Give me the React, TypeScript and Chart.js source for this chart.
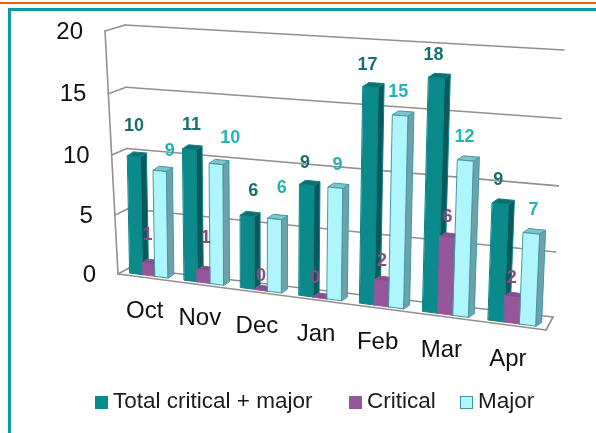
import React, { useEffect, useRef } from "react";
import { Chart, registerables } from "chart.js";

Chart.register(...registerables);

const months = ["Oct", "Nov", "Dec", "Jan", "Feb", "Mar", "Apr"];
const totalValues = [10, 11, 6, 9, 17, 18, 9];
const criticalValues = [1, 1, 0, 0, 2, 6, 2];
const majorValues = [9, 10, 6, 9, 15, 12, 7];

type P = [number, number];
const FONT = '"Liberation Sans", Arial, sans-serif';

function quad(bl: P, br: P, tr: P, tl: P) {
  const [x0, y0] = bl, [x1, y1] = br, [x2, y2] = tr, [x3, y3] = tl;
  const dx1 = x1 - x2, dx2 = x3 - x2, sx = x0 - x1 + x2 - x3;
  const dy1 = y1 - y2, dy2 = y3 - y2, sy = y0 - y1 + y2 - y3;
  const den = dx1 * dy2 - dx2 * dy1;
  const g = (sx * dy2 - dx2 * sy) / den;
  const h = (dx1 * sy - sx * dy1) / den;
  const a = x1 - x0 + g * x1, b = x3 - x0 + h * x3;
  const d = y1 - y0 + g * y1, e = y3 - y0 + h * y3;
  return (u: number, v: number): P => {
    const w = g * u + h * v + 1;
    return [(a * u + b * v + x0) / w, (d * u + e * v + y0) / w];
  };
}

const barPlane = quad([122, 272], [546, 327.5], [558, 57], [117, 34]);
const backWall = quad([129, 268], [553, 317], [564, 50], [125, 25]);
const frontWall = quad([118, 274], [546, 330], [552, 63], [105, 31]);
const DEPTH: P = [6, -4];

const shades = [
  { front: "#0b8a8c", side: "#07595c", top: "#0a7073", stroke: "#0b8084", label: "#17706f" },
  { front: "#96569a", side: "#7a4580", top: "#84508a", stroke: "#96569a", label: "#8a4a82" },
  { front: "#aef6fb", side: "#6ea2ab", top: "#7fc6cc", stroke: "#3f98a2", label: "#22b5b5" },
];

// where each value label sits relative to the top of its bar (the source chart placed them by hand)
const labelOffsets: P[][] = [
  [[0, -30], [2, -24], [6, -25], [-2, -22], [-3, -22], [-3, -23], [-2, -24]],
  [[-1, -29], [2, -33], [0, -14], [-5, -20], [0, -20], [0, -21], [-1, -19]],
  [[10, -20], [14, -26], [7, -31], [2, -23], [-2, -23], [-1, -23], [2, -23]],
];
const legendX = [95, 349, 460];

function poly(ctx: CanvasRenderingContext2D, pts: P[], fill: string, stroke: string) {
  ctx.beginPath();
  pts.forEach((p, i) => (i ? ctx.lineTo(p[0], p[1]) : ctx.moveTo(p[0], p[1])));
  ctx.closePath();
  ctx.fillStyle = fill;
  ctx.fill();
  ctx.strokeStyle = stroke;
  ctx.lineWidth = 1;
  ctx.stroke();
}

function line(ctx: CanvasRenderingContext2D, a: P, b: P) {
  ctx.beginPath();
  ctx.moveTo(a[0], a[1]);
  ctx.lineTo(b[0], b[1]);
  ctx.stroke();
}

const scene3d = {
  id: "scene3d",
  beforeDatasetsDraw(chart: any) {
    const { ctx, chartArea: ca, scales } = chart;
    const U = (px: number) => (px - ca.left) / (ca.right - ca.left);
    const V = (py: number) => (ca.bottom - py) / (ca.bottom - ca.top);
    const yScale = scales.y;
    const xScale = scales.x;

    ctx.save();
    // slide frame
    ctx.fillStyle = "#e0640f";
    ctx.fillRect(0, 2, chart.width, 2);
    ctx.fillStyle = "#0e9aa0";
    ctx.fillRect(8, 8, chart.width - 8, 3);
    ctx.fillRect(8, 8, 3, chart.height - 8);

    // walls and grid
    ctx.strokeStyle = "#958f8d";
    ctx.lineWidth = 1.6;
    ctx.lineCap = "round";
    line(ctx, frontWall(0, 0), frontWall(0, 1));
    ctx.textBaseline = "middle";
    ctx.textAlign = "right";
    ctx.font = `24px ${FONT}`;
    yScale.ticks.forEach((t: any) => {
      const v = V(yScale.getPixelForValue(t.value));
      const f = frontWall(0, v);
      const bl = backWall(0, v);
      const br = backWall(1, v);
      line(ctx, f, bl);
      line(ctx, bl, br);
      ctx.fillStyle = "#111111";
      ctx.fillText(String(t.value), f[0] - 22, f[1] + 1);
    });
    line(ctx, frontWall(0, 0), frontWall(1, 0));
    line(ctx, frontWall(1, 0), backWall(1, 0));

    // bars, built from the elements of the library
    const count = xScale.ticks.length;
    for (let i = 0; i < count; i++) {
      chart.data.datasets.forEach((_: any, di: number) => {
        const el = chart.getDatasetMeta(di).data[i];
        const s = shades[di];
        const uL = U(el.x - el.width / 2);
        const uR = U(el.x + el.width / 2);
        const vT = V(el.y);
        const vB = V(el.base);
        const a = barPlane(uL, vB), b = barPlane(uR, vB), c = barPlane(uR, vT), d = barPlane(uL, vT);
        const sh = (p: P): P => [p[0] + DEPTH[0], p[1] + DEPTH[1]];
        poly(ctx, [b, c, sh(c), sh(b)], s.side, s.stroke);
        poly(ctx, [d, c, sh(c), sh(d)], s.top, s.stroke);
        poly(ctx, [a, b, c, d], s.front, s.stroke);
      });
    }

    // data labels
    ctx.textAlign = "center";
    ctx.font = `bold 18px ${FONT}`;
    chart.data.datasets.forEach((ds: any, di: number) => {
      const s = shades[di];
      ds.data.forEach((val: number, i: number) => {
        const el = chart.getDatasetMeta(di).data[i];
        const p = barPlane(U(el.x), V(el.y));
        const o = labelOffsets[di][i];
        ctx.fillStyle = s.label;
        ctx.fillText(String(val), p[0] + o[0], p[1] + o[1]);
      });
    });

    // category labels
    ctx.font = `24px ${FONT}`;
    ctx.fillStyle = "#111111";
    xScale.ticks.forEach((t: any, i: number) => {
      const p = barPlane(U(xScale.getPixelForTick(i)), 0);
      ctx.fillText(xScale.getLabelForValue(t.value), p[0] - 4, p[1] + 36);
    });

    // legend
    ctx.font = `22.5px ${FONT}`;
    ctx.textAlign = "left";
    chart.data.datasets.forEach((ds: any, di: number) => {
      const s = shades[di];
      const lx = legendX[di];
      ctx.fillStyle = s.front;
      ctx.fillRect(lx, 396, 13, 13);
      if (di === 2) {
        ctx.strokeStyle = s.stroke;
        ctx.lineWidth = 1;
        ctx.strokeRect(lx + 0.5, 396.5, 12, 12);
      }
      ctx.fillStyle = "#1a1a1a";
      ctx.fillText(ds.label, lx + 18, 402);
    });
    ctx.restore();
    return false;
  },
};

export default function App() {
  const ref = useRef<HTMLCanvasElement>(null);
  useEffect(() => {
    const chart = new Chart(ref.current!, {
      type: "bar",
      data: {
        labels: months,
        datasets: [
          { label: "Total critical + major", data: totalValues, backgroundColor: shades[0].front },
          { label: "Critical", data: criticalValues, backgroundColor: shades[1].front },
          { label: "Major", data: majorValues, backgroundColor: shades[2].front },
        ],
      },
      options: {
        animation: false,
        responsive: false,
        layout: { padding: 0 },
        datasets: { bar: { categoryPercentage: 0.7, barPercentage: 1 } },
        plugins: { legend: { display: false }, tooltip: { enabled: false } },
        scales: {
          x: { ticks: { display: false }, grid: { display: false }, border: { display: false } },
          y: {
            min: 0,
            max: 20,
            ticks: { display: false, stepSize: 5 },
            grid: { display: false },
            border: { display: false },
          },
        },
      },
      plugins: [scene3d],
    } as any);
    return () => chart.destroy();
  }, []);
  return (
    <div style={{ position: "fixed", left: 0, top: 0, width: 596, height: 433, background: "#fff" }}>
      <canvas ref={ref} width={596} height={433} style={{ display: "block" }} />
    </div>
  );
}
